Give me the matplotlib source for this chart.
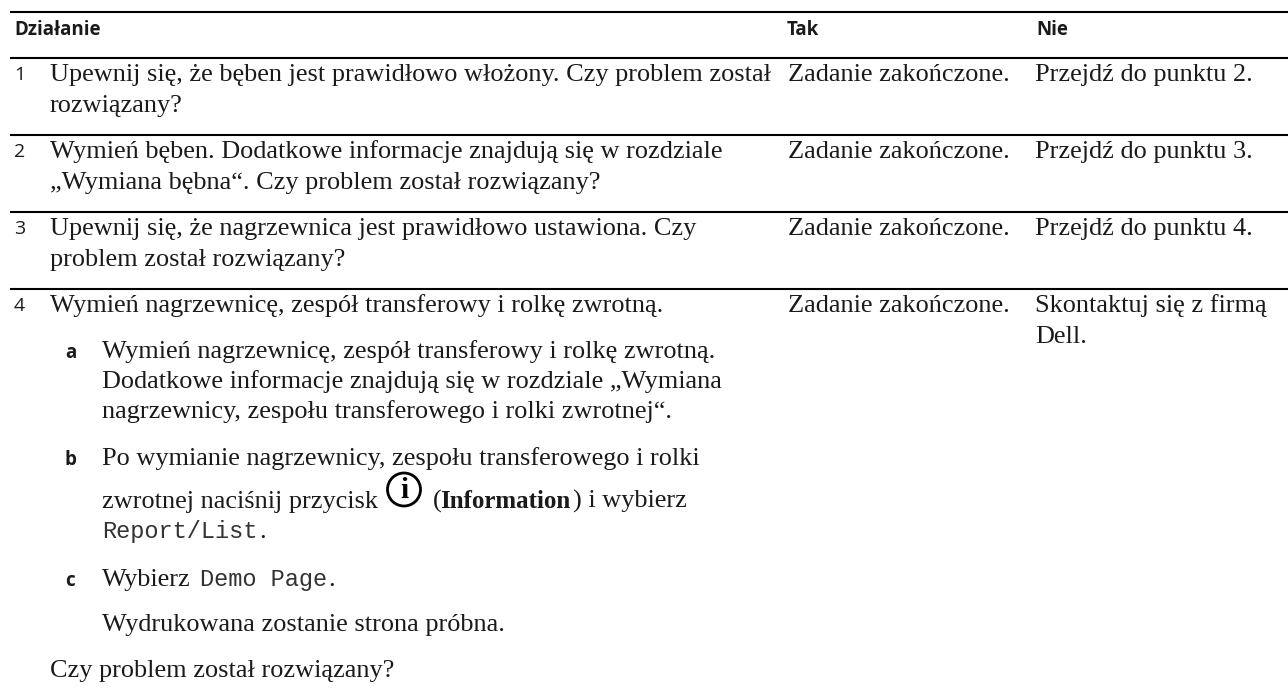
import matplotlib
matplotlib.use("Agg")
import matplotlib.pyplot as plt
from matplotlib.patches import Circle

W, H = 1288, 695
SERIF = "Liberation Serif"
SANS = "Open Sans"
MONO = "Liberation Mono"
INK = "#1a1a1a"

rule_y = [12, 57.5, 134.5, 212, 289]
headers = ["Działanie", "Tak", "Nie"]
header_x = [14, 787, 1036]
row_numbers = ["1", "2", "3", "4"]
row_number_y = [81, 158, 235, 312]
sub_labels = ["a", "b", "c"]
sub_label_y = [358, 465, 586]

body_lines = [
    (50, 81, "Upewnij się, że bęben jest prawidłowo włożony. Czy problem został"),
    (50, 112, "rozwiązany?"),
    (50, 158, "Wymień bęben. Dodatkowe informacje znajdują się w rozdziale"),
    (50, 189, "„Wymiana bębna“. Czy problem został rozwiązany?"),
    (50, 235, "Upewnij się, że nagrzewnica jest prawidłowo ustawiona. Czy"),
    (50, 266, "problem został rozwiązany?"),
    (50, 312, "Wymień nagrzewnicę, zespół transferowy i rolkę zwrotną."),
    (102, 358, "Wymień nagrzewnicę, zespół transferowy i rolkę zwrotną."),
    (102, 388, "Dodatkowe informacje znajdują się w rozdziale „Wymiana"),
    (102, 418, "nagrzewnicy, zespołu transferowego i rolki zwrotnej“."),
    (102, 465, "Po wymianie nagrzewnicy, zespołu transferowego i rolki"),
    (102, 508, "zwrotnej naciśnij przycisk"),
    (102, 586, "Wybierz"),
    (102, 631, "Wydrukowana zostanie strona próbna."),
    (50, 677, "Czy problem został rozwiązany?"),
]
yes_lines = [(788, 81), (788, 158), (788, 235), (788, 312)]
yes_text = "Zadanie zakończone."
no_lines = [
    (1035, 81, "Przejdź do punktu 2."),
    (1035, 158, "Przejdź do punktu 3."),
    (1035, 235, "Przejdź do punktu 4."),
    (1035, 312, "Skontaktuj się z firmą"),
    (1035, 343, "Dell."),
]

fig = plt.figure(figsize=(W / 100, H / 100), dpi=100, facecolor="white")
ax = fig.add_axes([0, 0, 1, 1])
ax.set_xlim(0, W)
ax.set_ylim(H, 0)
ax.axis("off")

for y in rule_y:
    ax.plot([10.5, W], [y, y], color="black", lw=1.5, solid_capstyle="butt")

BODY = 18.9
for x, t in zip(header_x, headers):
    ax.text(x, 35, t, family=SANS, weight="bold", fontsize=13.5, color=INK, va="baseline")
for n, y in zip(row_numbers, row_number_y):
    ax.text(14, y - 1, n, family=SANS, fontsize=14, color=INK, va="baseline")
for s, y in zip(sub_labels, sub_label_y):
    ax.text(65, y, s, family=SANS, weight="bold", fontsize=13.5, color=INK, va="baseline")
for x, y, t in body_lines:
    ax.text(x, y, t, family=SERIF, fontsize=BODY, color=INK, va="baseline")
for x, y in yes_lines:
    ax.text(x, y, yes_text, family=SERIF, fontsize=BODY, color=INK, va="baseline")
for x, y, t in no_lines:
    ax.text(x, y, t, family=SERIF, fontsize=BODY, color=INK, va="baseline")

# inline items of item b / c
ax.text(433, 508, "(", family=SERIF, fontsize=BODY, color=INK, va="baseline")
ax.text(440, 508, "Information", family=SERIF, weight="bold", fontsize=18, color=INK, va="baseline")
ax.text(573, 508, ") i wybierz", family=SERIF, fontsize=BODY, color=INK, va="baseline")
ax.text(102, 538, "Report/List", family=MONO, fontsize=17, color="#333333", va="baseline")
ax.text(259, 538, ".", family=SERIF, fontsize=BODY, color=INK, va="baseline")
ax.text(200, 586, "Demo Page", family=MONO, fontsize=17, color="#333333", va="baseline")
ax.text(328, 586, ".", family=SERIF, fontsize=BODY, color=INK, va="baseline")

# information icon
ax.add_patch(Circle((404, 489.5), 16.5, fill=False, ec="black", lw=2.0))
ax.text(404, 490, "i", family=SERIF, weight="bold", fontsize=21, ha="center", va="center", color="black")

fig.savefig("out.png", dpi=100)
